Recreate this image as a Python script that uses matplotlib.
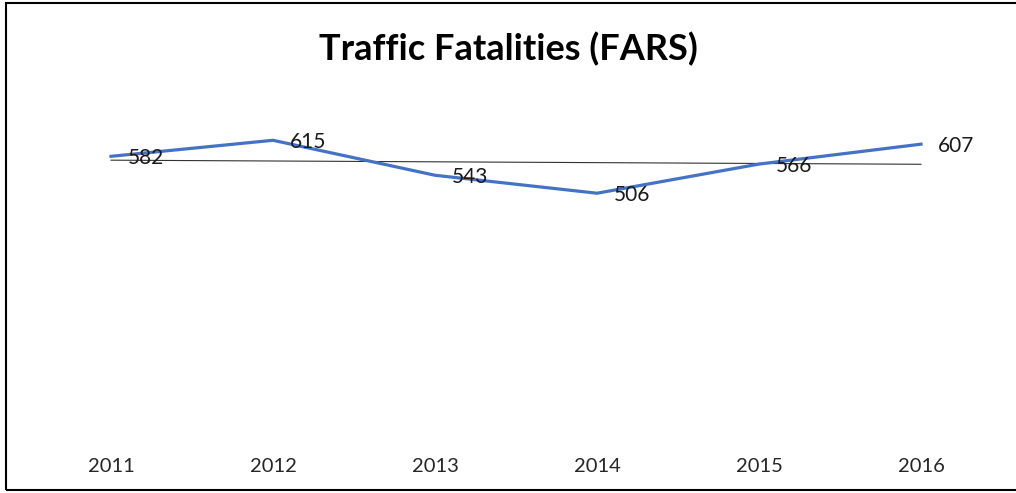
import numpy as np
import matplotlib
matplotlib.use("Agg")
import matplotlib.pyplot as plt
from matplotlib.patches import Rectangle

# data
years = ["2011", "2012", "2013", "2014", "2015", "2016"]
fatalities = [582, 615, 543, 506, 566, 607]

plt.rcParams['font.family'] = ['Lato', 'DejaVu Sans']

fig = plt.figure(figsize=(10.16, 4.93), dpi=100)
ax = fig.add_axes([30 / 1016, 54 / 493, 972 / 1016, 340 / 493])

x = np.arange(len(years))
ax.plot(x, fatalities, color="#4472C4", linewidth=2.3, zorder=3)

# linear trendline like excel's
slope, icpt = np.polyfit(x, fatalities, 1)
ax.plot(x, slope * x + icpt, color="#333333", linewidth=0.8, zorder=2)

for xi, v in zip(x, fatalities):
    ax.annotate(str(v), (xi, v), xytext=(12, -1.5), textcoords="offset points",
                ha="left", va="center", fontsize=15, color="#1a1a1a", zorder=4)

ax.set_xlim(-0.5, len(years) - 0.5)
ax.set_ylim(0, 700)
ax.set_xticks(x)
ax.set_xticklabels(years, fontsize=14.5, color="#262626")
ax.tick_params(axis="x", length=0, pad=14)
ax.set_yticks([])
for s in ax.spines.values():
    s.set_visible(False)

fig.text(0.5, 1 - 49 / 493, "Traffic Fatalities (FARS)", ha="center", va="center",
         fontsize=26, fontweight="bold", color="black")

# chart border (right edge is cut off in the original)
fig.patches.append(Rectangle((6 / 1016, 3 / 493), 1.1, 487 / 493, transform=fig.transFigure,
                             fill=False, edgecolor="black", linewidth=1.5))

fig.savefig("out.png", dpi=100)
